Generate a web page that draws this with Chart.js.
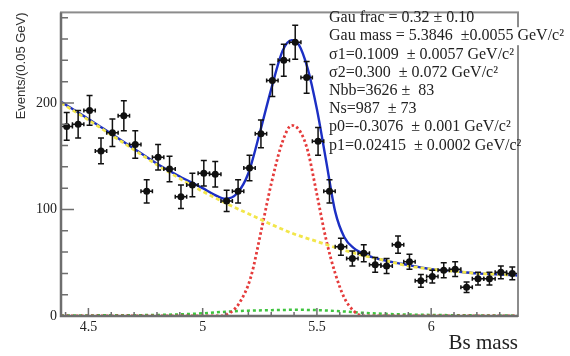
<!DOCTYPE html>
<html>
<head>
<meta charset="utf-8">
<script src="https://cdn.jsdelivr.net/npm/chart.js@4.4.1/dist/chart.umd.min.js"></script>
<style>
body { margin: 0; background: #fff; }
canvas { display: block; }
</style>
</head>
<body>
<canvas id="massChart" width="570" height="356"></canvas>
<script>
// measured histogram (bin width 0.05 GeV)
const massBins = [4.405, 4.455, 4.505, 4.555, 4.605, 4.655, 4.705, 4.755, 4.805, 4.855,
                  4.905, 4.955, 5.005, 5.055, 5.105, 5.155, 5.205, 5.255, 5.305, 5.355,
                  5.405, 5.455, 5.505, 5.555, 5.605, 5.655, 5.705, 5.755, 5.805, 5.855,
                  5.905, 5.955, 6.005, 6.055, 6.105, 6.155, 6.205, 6.255, 6.305, 6.355];
const eventCounts = [178, 180, 193, 155, 172, 188, 161, 117, 149, 138,
                     112, 123, 134, 133, 108, 117, 139, 171, 221, 240,
                     257, 224, 164, 117, 65, 54, 59, 48, 47, 67,
                     51, 33, 37, 43, 44, 27, 35, 35, 41, 40];
const countErrors = [13, 13, 14, 12, 13, 14, 13, 11, 12, 12,
                     11, 11, 12, 12, 10, 11, 12, 13, 15, 15,
                     16, 15, 13, 11, 8, 7, 8, 7, 7, 8,
                     7, 6, 6, 7, 7, 5, 6, 6, 6, 6];
const binHalfWidth = 0.025;

// total fit (blue)
const fitMass = [4.38, 4.5, 4.6, 4.7, 4.8, 4.9, 5.0, 5.05, 5.1, 5.15, 5.2, 5.25, 5.3, 5.35, 5.39,
                 5.42, 5.46, 5.5, 5.54, 5.58, 5.62, 5.66, 5.72, 5.8, 5.87, 6.0, 6.1, 6.2, 6.3, 6.38];
const fitValues = [201, 185, 171, 157, 143, 131, 120, 114, 110, 115, 134, 172, 213, 249, 259,
                   255, 232, 194, 146, 98, 74, 64, 57, 52, 49, 44, 42, 40, 39, 38];
// background (yellow)
const bkgMass = [4.38, 4.5, 4.6, 4.7, 4.8, 4.9, 5.0, 5.1, 5.2, 5.3, 5.4, 5.5,
                 5.6, 5.7, 5.8, 5.9, 6.0, 6.1, 6.2, 6.3, 6.38];
const bkgValues = [200, 184, 170, 156, 142, 129, 117, 106, 96, 86, 77, 70,
                   63, 57, 52, 47, 44, 42, 40, 39, 38];
// signal peak (red)
const sigMass = [4.38, 5.08, 5.12, 5.16, 5.21, 5.26, 5.30, 5.35, 5.39, 5.43, 5.46,
                 5.50, 5.54, 5.58, 5.62, 5.66, 5.70, 6.38];
const sigValues = [0, 0, 3, 12, 36, 84, 124, 164, 179, 172, 155,
                   114, 72, 40, 17, 5, 0, 0];
// wide component (green)
const wideMass = [4.38, 4.8, 5.0, 5.1, 5.2, 5.3, 5.4, 5.5, 5.6, 5.7, 5.8, 6.0, 6.38];
const wideValues = [0.5, 1, 2.5, 4, 5, 5.5, 5.8, 5.5, 4.5, 3, 2, 1, 0.3];

const xTickLabels = [4.5, 5, 5.5, 6];
const xMinorTicks = [4.4, 4.6, 4.7, 4.8, 4.9, 5.1, 5.2, 5.3, 5.4, 5.6, 5.7, 5.8, 5.9, 6.1, 6.2, 6.3];
const yTickLabels = [0, 100, 200];
const yMinorTicks = [20, 40, 60, 80, 120, 140, 160, 180, 220, 240, 260, 280];

const fitResults = [
  "Gau frac = 0.32 \u00b1 0.10",
  "Gau mass = 5.3846  \u00b10.0055 GeV/c\u00b2",
  "\u03c31=0.1009  \u00b1 0.0057 GeV/c\u00b2",
  "\u03c32=0.300  \u00b1 0.072 GeV/c\u00b2",
  "Nbb=3626 \u00b1  83",
  "Ns=987  \u00b1 73",
  "p0=-0.3076  \u00b1 0.001 GeV/c\u00b2",
  "p1=0.02415  \u00b1 0.0002 GeV/c\u00b2"
];

function toPoints(xs, ys) {
  return xs.map((v, i) => ({ x: v, y: ys[i] }));
}

const decorations = {
  id: 'decorations',
  afterDatasetsDraw(chart) {
    const { ctx, chartArea: a, scales: { x, y } } = chart;
    ctx.save();

    // error bars
    ctx.strokeStyle = '#111';
    ctx.lineWidth = 1.5;
    massBins.forEach((m, i) => {
      const px = x.getPixelForValue(m);
      const py = y.getPixelForValue(eventCounts[i]);
      const yTop = y.getPixelForValue(eventCounts[i] + countErrors[i]);
      const yBot = y.getPixelForValue(eventCounts[i] - countErrors[i]);
      const xl = x.getPixelForValue(m - binHalfWidth);
      const xr = x.getPixelForValue(m + binHalfWidth);
      ctx.beginPath();
      ctx.moveTo(px, yTop); ctx.lineTo(px, yBot);
      ctx.moveTo(xl, py); ctx.lineTo(xr, py);
      ctx.moveTo(px - 3, yTop); ctx.lineTo(px + 3, yTop);
      ctx.moveTo(px - 3, yBot); ctx.lineTo(px + 3, yBot);
      ctx.moveTo(xl, py - 2); ctx.lineTo(xl, py + 2);
      ctx.moveTo(xr, py - 2); ctx.lineTo(xr, py + 2);
      ctx.stroke();
    });

    // frame
    ctx.strokeStyle = '#8c8c8c';
    ctx.lineWidth = 2;
    ctx.strokeRect(a.left, a.top, a.right - a.left, a.bottom - a.top);
    ctx.strokeStyle = '#6e6e6e';
    ctx.lineWidth = 2.5;
    ctx.beginPath();
    ctx.moveTo(a.left, a.top); ctx.lineTo(a.left, a.bottom); ctx.lineTo(a.right, a.bottom);
    ctx.stroke();

    // inward ticks
    ctx.strokeStyle = '#6e6e6e';
    ctx.lineWidth = 1.5;
    ctx.beginPath();
    yTickLabels.forEach(v => { const p = y.getPixelForValue(v); ctx.moveTo(a.left, p); ctx.lineTo(a.left + 13, p); });
    yMinorTicks.forEach(v => { const p = y.getPixelForValue(v); ctx.moveTo(a.left, p); ctx.lineTo(a.left + 7, p); });
    xTickLabels.forEach(v => { const p = x.getPixelForValue(v); ctx.moveTo(p, a.bottom); ctx.lineTo(p, a.bottom - 8); });
    xMinorTicks.forEach(v => { const p = x.getPixelForValue(v); ctx.moveTo(p, a.bottom); ctx.lineTo(p, a.bottom - 4); });
    ctx.stroke();

    // fit results text
    ctx.font = "16px 'Liberation Serif'";
    ctx.textBaseline = 'middle';
    ctx.textAlign = 'left';
    const tx = 329;
    fitResults.forEach((line, i) => {
      const ty = 18 + i * 18.2;
      if (i === 1) {
        ctx.fillStyle = '#fff';
        ctx.fillRect(tx - 2, ty - 9, ctx.measureText(line).width + 4, 18);
      }
      ctx.fillStyle = '#222';
      ctx.fillText(line, tx, ty);
    });
    ctx.restore();
  }
};

new Chart(document.getElementById('massChart'), {
  data: {
    datasets: [
      {
        type: 'scatter',
        data: toPoints(massBins, eventCounts),
        pointRadius: 3.5,
        backgroundColor: '#111',
        borderWidth: 0,
        order: 0
      },
      {
        type: 'line',
        data: toPoints(bkgMass, bkgValues),
        borderColor: '#f2e64a',
        borderWidth: 2.8,
        borderDash: [4, 3],
        pointRadius: 0,
        cubicInterpolationMode: 'monotone',
        order: 1
      },
      {
        type: 'line',
        data: toPoints(fitMass, fitValues),
        borderColor: '#1c2fc4',
        borderWidth: 2.4,
        pointRadius: 0,
        cubicInterpolationMode: 'monotone',
        order: 2
      },
      {
        type: 'line',
        data: toPoints(sigMass, sigValues),
        borderColor: '#e53b3b',
        borderWidth: 2.8,
        borderDash: [2.5, 2.5],
        pointRadius: 0,
        cubicInterpolationMode: 'monotone',
        order: 3
      },
      {
        type: 'line',
        data: toPoints(wideMass, wideValues),
        borderColor: '#3fc43f',
        borderWidth: 2.5,
        borderDash: [3, 3],
        pointRadius: 0,
        cubicInterpolationMode: 'monotone',
        order: 4
      }
    ]
  },
  options: {
    responsive: false,
    animation: false,
    devicePixelRatio: 1,
    layout: { padding: { left: 0, right: 52, top: 4, bottom: 0 } },
    plugins: { legend: { display: false }, tooltip: { enabled: false } },
    scales: {
      x: {
        type: 'linear',
        min: 4.38,
        max: 6.38,
        grid: { display: false, drawTicks: false },
        border: { display: false },
        afterBuildTicks: s => { s.ticks = xTickLabels.map(v => ({ value: v })); },
        afterFit: s => { s.height = 40; },
        ticks: {
          padding: 3,
          color: '#222',
          font: { family: "'Liberation Serif'", size: 14 },
          callback: v => String(v),
          maxRotation: 0
        },
        title: {
          display: true,
          text: 'Bs mass',
          align: 'end',
          color: '#222',
          font: { family: "'Liberation Serif'", size: 21 },
          padding: { top: 0, bottom: 0 }
        }
      },
      y: {
        type: 'linear',
        min: 0,
        max: 285,
        grid: { display: false, drawTicks: false },
        border: { display: false },
        afterBuildTicks: s => { s.ticks = yTickLabels.map(v => ({ value: v })); },
        afterFit: s => { s.width = 61; },
        ticks: {
          padding: 4,
          color: '#222',
          font: { family: "'Liberation Serif'", size: 14 },
          callback: v => String(v)
        },
        title: {
          display: true,
          text: 'Events/(0.05 GeV)',
          align: 'end',
          color: '#333',
          font: { family: "'Liberation Sans'", size: 13 },
          padding: { top: 14, bottom: 0 }
        }
      }
    }
  },
  plugins: [decorations]
});
</script>
</body>
</html>
